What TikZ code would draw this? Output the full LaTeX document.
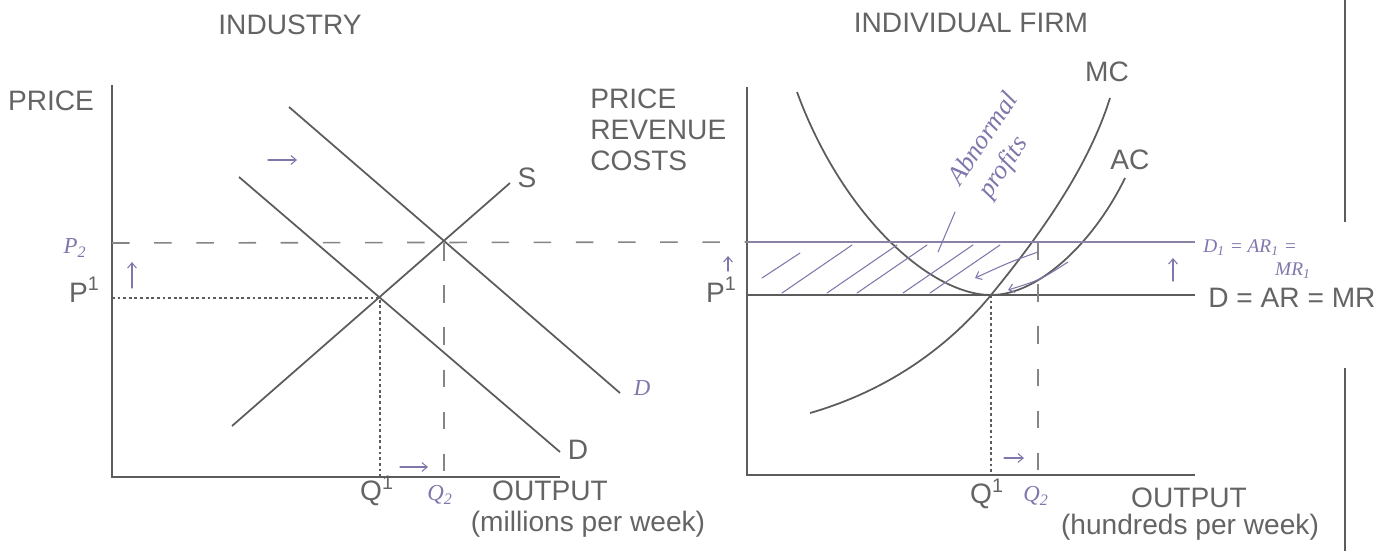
\documentclass[tikz,border=0pt]{standalone}
\usepackage{fontspec}
\setmainfont{Liberation Sans}
\newfontfamily\handfont{Liberation Serif}
\usepackage{xcolor}
\usetikzlibrary{arrows.meta}

\definecolor{inkgray}{RGB}{92,92,92}
\definecolor{textgray}{RGB}{100,100,100}
\definecolor{pen}{RGB}{128,118,172}
\definecolor{penline}{RGB}{140,130,165}

\begin{document}
\begin{tikzpicture}[
    x=0.02cm, y=-0.02cm,
    axisline/.style={
        draw=inkgray,
        line width=1.1pt
    },
    curve/.style={
        draw=inkgray,
        line width=1pt
    },
    dotline/.style={
        draw=inkgray,
        line width=0.9pt,
        dash pattern=on 1.6pt off 1.6pt
    },
    dashline/.style={
        draw=inkgray!75,
        line width=0.9pt,
        dash pattern=on 10pt off 14pt
    },
    printed/.style={
        text=textgray,
        inner sep=0pt,
        font=\fontsize{16}{17.6}\selectfont
    },
    hand/.style={
        draw=pen,
        line width=0.6pt,
        line cap=round
    },
    handarrow/.style={
        hand,
        -{Straight Barb[length=3pt, width=5pt]}
    },
    handtext/.style={
        text=pen,
        inner sep=0pt,
        font=\handfont\itshape\fontsize{13}{14}\selectfont
    }
]
\useasboundingbox (0,0) rectangle (1398,551);

% Left: industry
\coordinate (lo) at (112,477);
\coordinate (ltop) at (112,85);
\coordinate (lend) at (560,477);
\coordinate (e1) at (380,298);
\coordinate (e2) at (444,243);
\coordinate (s0) at (232,426);
\coordinate (s1) at (510,183);
\coordinate (d0) at (239,177);
\coordinate (d1) at (560,452);
\coordinate (dd0) at (289,107);
\coordinate (dd1) at (620,393);

\node[printed] (ind) at (290,25) {INDUSTRY};
\node[printed] (lprice) at (51,101) {PRICE};
\node[printed, anchor=base east] (lp1) at (100,302) {P\textsuperscript{1}};
\node[printed] (lq1) at (377,491) {Q\textsuperscript{1}};
\node[printed] (lout) at (550,491) {OUTPUT};
\node[printed] (lunit) at (588,524) {(millions per week)};
\node[printed] (slab) at (527,178) {S};
\node[printed] (dlab) at (578,450) {D};

\draw[axisline] (ltop) -- (lo) -- (lend);
\draw[curve] (s0) -- (s1);
\draw[curve] (d0) -- (d1);
\draw[curve] (dd0) -- (dd1);
\draw[dotline] (e1 -| lo) -- (e1) -- (e1 |- lo);

% Right: individual firm
\coordinate (ro) at (747,475);
\coordinate (rtop) at (747,87);
\coordinate (rend) at (1195,475);
\coordinate (m) at (991,295);
\coordinate (q2) at (1038,242);
\coordinate (arend) at (1195,295);
\coordinate (d1end) at (1195,242);

\node[printed] (firm) at (971,23) {INDIVIDUAL FIRM};
\node[printed, anchor=north west, align=left] (rprice) at (590,89) {PRICE\\REVENUE\\COSTS};
\node[printed, anchor=base east] (rp1) at (737,302) {P\textsuperscript{1}};
\node[printed] (rq1) at (987,494) {Q\textsuperscript{1}};
\node[printed] (rout) at (1189,498) {OUTPUT};
\node[printed] (runit) at (1190,527) {(hundreds per week)};
\node[printed] (mclab) at (1107,72) {MC};
\node[printed] (aclab) at (1130,160) {AC};
\node[printed, anchor=west] (armr) at (1208,298) {D = AR = MR};

\draw[axisline] (rtop) -- (ro) -- (rend);
\draw[curve] (m -| ro) -- (arend);
\draw[curve] (797,92) .. controls (842,215) and (930,295) .. (m)
    .. controls (1040,295) and (1095,240) .. (1125,178);
\draw[curve] (810,413) .. controls (890,390) and (950,345) .. (m)
    .. controls (1040,235) and (1088,168) .. (1110,98);
\draw[dotline] (m) -- (m |- ro);
\draw[dashline] (q2) -- (q2 |- ro);

% price rise to P2
\draw[dashline] (e2 -| lo) -- (q2 -| ro);
\draw[dashline] (e2) -- (e2 |- lo);
\draw[draw=penline, line width=1pt] (q2 -| ro) -- (d1end);

% Handwritten notes
\node[handtext] (p2) at (75,248) {P\textsubscript{2}};
\node[handtext] (lq2) at (440,495) {Q\textsubscript{2}};
\node[handtext] (rq2) at (1036,496) {Q\textsubscript{2}};
\node[handtext] (dnew) at (642,388) {D};
\node[handtext, anchor=west, font=\handfont\itshape\fontsize{11}{12}\selectfont] (d1lab) at (1203,248) {D\textsubscript{1} = AR\textsubscript{1} =};
\node[handtext, font=\handfont\itshape\fontsize{11}{12}\selectfont] (mr1) at (1293,271) {MR\textsubscript{1}};
\node[handtext, rotate=56, font=\handfont\itshape\fontsize{15}{17}\selectfont] (abn) at (982,138) {Abnormal};
\node[handtext, rotate=56, font=\handfont\itshape\fontsize{15}{17}\selectfont] (prof) at (1004,168) {profits};

\draw[handarrow] (268,160) -- (297,160);
\draw[handarrow] (132,288) -- (132,262);
\draw[handarrow] (400,467) -- (428,467);
\draw[handarrow] (728,271) -- (728,256);
\draw[handarrow] (1004,458) -- (1024,458);
\draw[handarrow] (1173,281) -- (1173,258);

\foreach \x in {782,827,857,903,930}
    \draw[hand] (\x,293) -- ++(70,-48);
\draw[hand] (762,278) -- (800,253);
\draw[hand] (938,252) -- (955,212);
\draw[handarrow] (1038,252) .. controls (1010,262) .. (975,278);
\draw[handarrow] (1068,262) .. controls (1040,280) .. (1008,290);

% page edge
\draw[axisline] (1345,0) -- (1345,222);
\draw[axisline] (1345,368) -- (1345,551);

\end{tikzpicture}
\end{document}
